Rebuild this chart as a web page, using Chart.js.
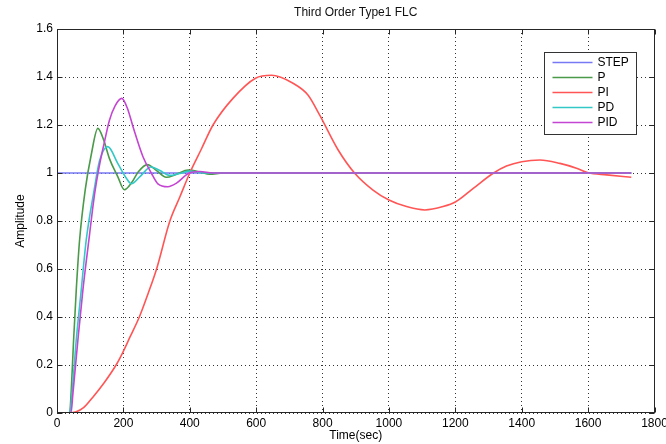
<!DOCTYPE html>
<html>
<head>
<meta charset="utf-8">
<script src="https://cdn.jsdelivr.net/npm/chart.js@4.4.0/dist/chart.umd.min.js"></script>
<style>
  html, body { margin: 0; padding: 0; background: #fff; }
</style>
</head>
<body>
<canvas id="c" width="666" height="444"></canvas>
<script>
// values (time in sec, amplitude)
const seriesNames = ['STEP', 'P', 'PI', 'PD', 'PID'];

const tStep = [0, 1730];
const yStep = [1, 1];

const tP = [0, 38, 43, 50, 58, 68, 85, 103, 123, 140, 158, 183, 203, 225, 245, 272, 300, 329, 360, 395, 430, 460, 500, 1730];
const yP = [0, 0, 0.096, 0.304, 0.512, 0.72, 0.93, 1.075, 1.186, 1.14, 1.06, 0.985, 0.93, 0.96, 1.005, 1.035, 1.01, 0.982, 0.995, 1.012, 1.005, 0.995, 1.0, 1.0];

const tPI = [0, 38, 58, 80, 108, 141, 178, 198, 220, 248, 275, 300, 340, 370, 400, 435, 470, 530, 598, 646, 711, 756, 791, 847, 897, 952, 1000, 1053, 1108, 1163, 1201, 1254, 1314, 1354, 1400, 1455, 1515, 1565, 1600, 1656, 1730];
const yPI = [0, 0, 0.005, 0.022, 0.066, 0.124, 0.2, 0.252, 0.317, 0.4, 0.5, 0.6, 0.8, 0.9, 1.0, 1.1, 1.2, 1.311, 1.395, 1.407, 1.374, 1.325, 1.242, 1.096, 0.999, 0.929, 0.8875, 0.86, 0.846, 0.86, 0.88, 0.936, 0.999, 1.029, 1.047, 1.054, 1.04, 1.02, 1.001, 0.992, 0.982];

const tPD = [0, 38, 46, 58, 73, 88, 112, 128, 153, 183, 209, 224, 250, 283, 310, 339, 370, 400, 440, 1730];
const yPD = [0, 0, 0.096, 0.304, 0.512, 0.72, 0.93, 1.05, 1.11, 1.04, 0.978, 0.955, 0.985, 1.025, 1.01, 0.99, 0.998, 1.008, 1.0, 1.0];

const tPID = [0, 42, 48, 63, 78, 96, 113, 128, 143, 158, 175, 195, 212, 229, 259, 284, 304, 334, 359, 397, 430, 470, 1730];
const yPID = [0, 0, 0.082, 0.304, 0.512, 0.72, 0.91, 1.033, 1.13, 1.22, 1.28, 1.311, 1.27, 1.193, 1.068, 1.0, 0.955, 0.943, 0.957, 0.999, 1.006, 1.0, 1.0];

const xTickStep = 200;
const yTickStep = 0.2;

const colours = ['#7878f5', '#4a9a4a', '#ff5555', '#33c8c8', '#c445d2'];
const times = [tStep, tP, tPI, tPD, tPID];
const values = [yStep, yP, yPI, yPD, yPID];

const FONT = 'Liberation Sans, Arial, Helvetica, sans-serif';

// matlab style box, inward ticks and legend
const matlabBox = {
    id: 'matlabBox',
    afterDatasetsDraw(chart) {
	const {ctx, chartArea: a, scales: {x, y}} = chart;
	const L = Math.round(a.left) + 0.5, R = Math.round(a.right) - 0.5;
	const T = Math.round(a.top) + 0.5, B = Math.round(a.bottom) - 0.5;
	ctx.save();
	ctx.strokeStyle = '#262626';
	ctx.lineWidth = 1;
	ctx.strokeRect(L, T, R - L, B - T);
	ctx.beginPath();
	for (const t of x.ticks) {
	    const px = Math.round(x.getPixelForValue(t.value)) + 0.5;
	    ctx.moveTo(px, B); ctx.lineTo(px, B - 5);
	    ctx.moveTo(px, T); ctx.lineTo(px, T + 5);
	}
	for (const t of y.ticks) {
	    const py = Math.round(y.getPixelForValue(t.value)) + 0.5;
	    ctx.moveTo(L, py); ctx.lineTo(L + 5, py);
	    ctx.moveTo(R, py); ctx.lineTo(R - 5, py);
	}
	ctx.stroke();

	// legend box
	const bx = Math.round(a.right - 111) + 0.5, by = Math.round(a.top + 23) + 0.5;
	const bw = 92, bh = 82;
	ctx.fillStyle = '#fff';
	ctx.fillRect(bx, by, bw, bh);
	ctx.strokeStyle = '#333';
	ctx.strokeRect(bx, by, bw, bh);
	ctx.font = '12px ' + FONT;
	ctx.textBaseline = 'middle';
	chart.data.datasets.forEach((ds, i) => {
	    const ly = by + 10 + i * 15;
	    ctx.strokeStyle = ds.borderColor;
	    ctx.lineWidth = 1.5;
	    ctx.beginPath();
	    ctx.moveTo(bx + 8, ly); ctx.lineTo(bx + 48, ly);
	    ctx.stroke();
	    ctx.fillStyle = '#000';
	    ctx.fillText(ds.label, bx + 53, ly + 0.5);
	});
	ctx.restore();
    }
};

const datasets = seriesNames.map((name, i) => ({
    label: name,
    data: times[i].map((t, j) => ({x: t, y: values[i][j]})),
    borderColor: colours[i],
    borderWidth: 1.6,
    pointRadius: 0,
    fill: false,
    cubicInterpolationMode: 'monotone',
    order: seriesNames.length - i // lowest order is drawn last, so PID ends up on top
}));

new Chart(document.getElementById('c'), {
    type: 'line',
    data: { datasets: datasets },
    options: {
	responsive: false,
	animation: false,
	layout: { padding: 0 },
	plugins: {
	    legend: { display: false },
	    tooltip: { enabled: false },
	    title: {
		display: true,
		text: 'Third Order Type1 FLC',
		fullSize: false,
		color: '#111',
		font: { family: FONT, size: 12, weight: 'normal' },
		padding: { top: 5, bottom: 9.6 }
	    }
	},
	scales: {
	    x: {
		type: 'linear',
		min: 0,
		max: 1800,
		afterFit: s => { s.height = 31; s.paddingRight = 11.5; },
		ticks: {
		    stepSize: xTickStep,
		    color: '#000',
		    padding: 3,
		    maxRotation: 0,
		    font: { family: FONT, size: 12 },
		    callback: v => String(v)
		},
		grid: { color: 'rgba(0,0,0,0.8)', lineWidth: 1, drawTicks: false },
		border: { display: false, dash: [1, 3] },
		title: {
		    display: true,
		    text: 'Time(sec)',
		    color: '#000',
		    font: { family: FONT, size: 12 },
		    padding: { top: 0, bottom: 1 }
		}
	    },
	    y: {
		min: 0,
		max: 1.6,
		afterFit: s => { s.width = 57; },
		ticks: {
		    stepSize: yTickStep,
		    color: '#000',
		    padding: 4,
		    font: { family: FONT, size: 12 },
		    callback: v => String(+v.toFixed(1))
		},
		grid: { color: 'rgba(0,0,0,0.8)', lineWidth: 1, drawTicks: false },
		border: { display: false, dash: [1, 3] },
		title: {
		    display: true,
		    text: 'Amplitude',
		    color: '#000',
		    font: { family: FONT, size: 12 },
		    padding: { top: 13, bottom: 0 }
		}
	    }
	}
    },
    plugins: [matlabBox]
});
</script>
</body>
</html>
